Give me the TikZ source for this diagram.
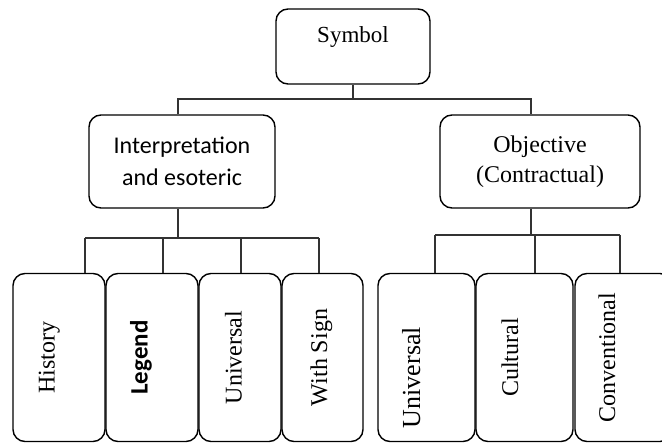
\documentclass[tikz,border=0pt]{standalone}
\usepackage{fontspec}
\setmainfont{Liberation Serif}
\newfontfamily\calibri{Carlito}
\usetikzlibrary{positioning}
\begin{document}
\begin{tikzpicture}
	[
		x = 1pt, y = -1pt,
		box/.style = {rectangle, rounded corners = 12pt, draw = black, line width = 1.4pt, align = center, font = \fontsize{24}{30}\selectfont},
		leaf/.style = {box, rotate = 90, minimum width = 168pt, text height = 17pt, text depth = #1},
		leaf/.default = 20pt,
		link/.style = {line width = 2.4pt, draw = black!80},
	]
	\useasboundingbox (0,0) rectangle (662,443);
	% top level
	\node (symbol) [box, minimum width = 154pt, minimum height = 75pt, text height = 16pt, text depth = 23pt, font = \fontsize{23}{28}\selectfont] at (353,46.5) {Symbol};
	\node (interp) [box, minimum width = 186pt, minimum height = 93pt, font = \calibri\fontsize{24}{32}\selectfont] at (182,161.5) {Interpretation\\and esoteric};
	\node (objective) [box, minimum width = 200pt, minimum height = 93pt] at (540,161.5) {Objective\\(Contractual)};
	% leaves
	\node (history) [leaf = 26pt, minimum height = 92pt] at (59,357.5) {History};
	\node (legend) [leaf = 26pt, minimum height = 92pt, font = \calibri\bfseries\fontsize{25}{30}\selectfont] at (152,357.5) {Legend};
	\node (universalA) [leaf = 14pt, minimum height = 82pt] at (240,357.5) {Universal};
	\node (withsign) [leaf = 8pt, minimum height = 81pt] at (322.5,357.5) {With Sign};
	\node (universalB) [leaf = 30pt, minimum height = 97pt, font = \fontsize{26}{30}\selectfont] at (426.5,357.5) {Universal\hspace*{40pt}};
	\node (cultural) [leaf = 30pt, minimum height = 97pt] at (524.5,357.5) {Cultural};
	\node (conventional) [leaf = 34pt, minimum height = 97pt] at (623.5,357.5) {Conventional};
	% connectors
	\coordinate (topbus) at (353,99);
	\draw[link] (symbol) -- (topbus);
	\draw[link] ([xshift = -4pt]interp.north) |- (topbus) -| ([xshift = -9pt]objective.north);
	\coordinate (leftbus) at (178,238);
	\draw[link] ([xshift = -4pt]interp.south) -- (leftbus);
	\draw[link] (85,238) -- (319,238);
	\foreach \x/\n in {85/history, 163/legend, 241/universalA, 319/withsign}
		\draw[link] (\x,238) -- (\x,238 |- \n.east);
	\coordinate (rightbus) at (531,235);
	\draw[link] ([xshift = -9pt]objective.south) -- (rightbus);
	\draw[link] (435,235) -- (620,235);
	\foreach \x/\n in {435/universalB, 535/cultural, 620/conventional}
		\draw[link] (\x,235) -- (\x,235 |- \n.east);
\end{tikzpicture}
\end{document}
